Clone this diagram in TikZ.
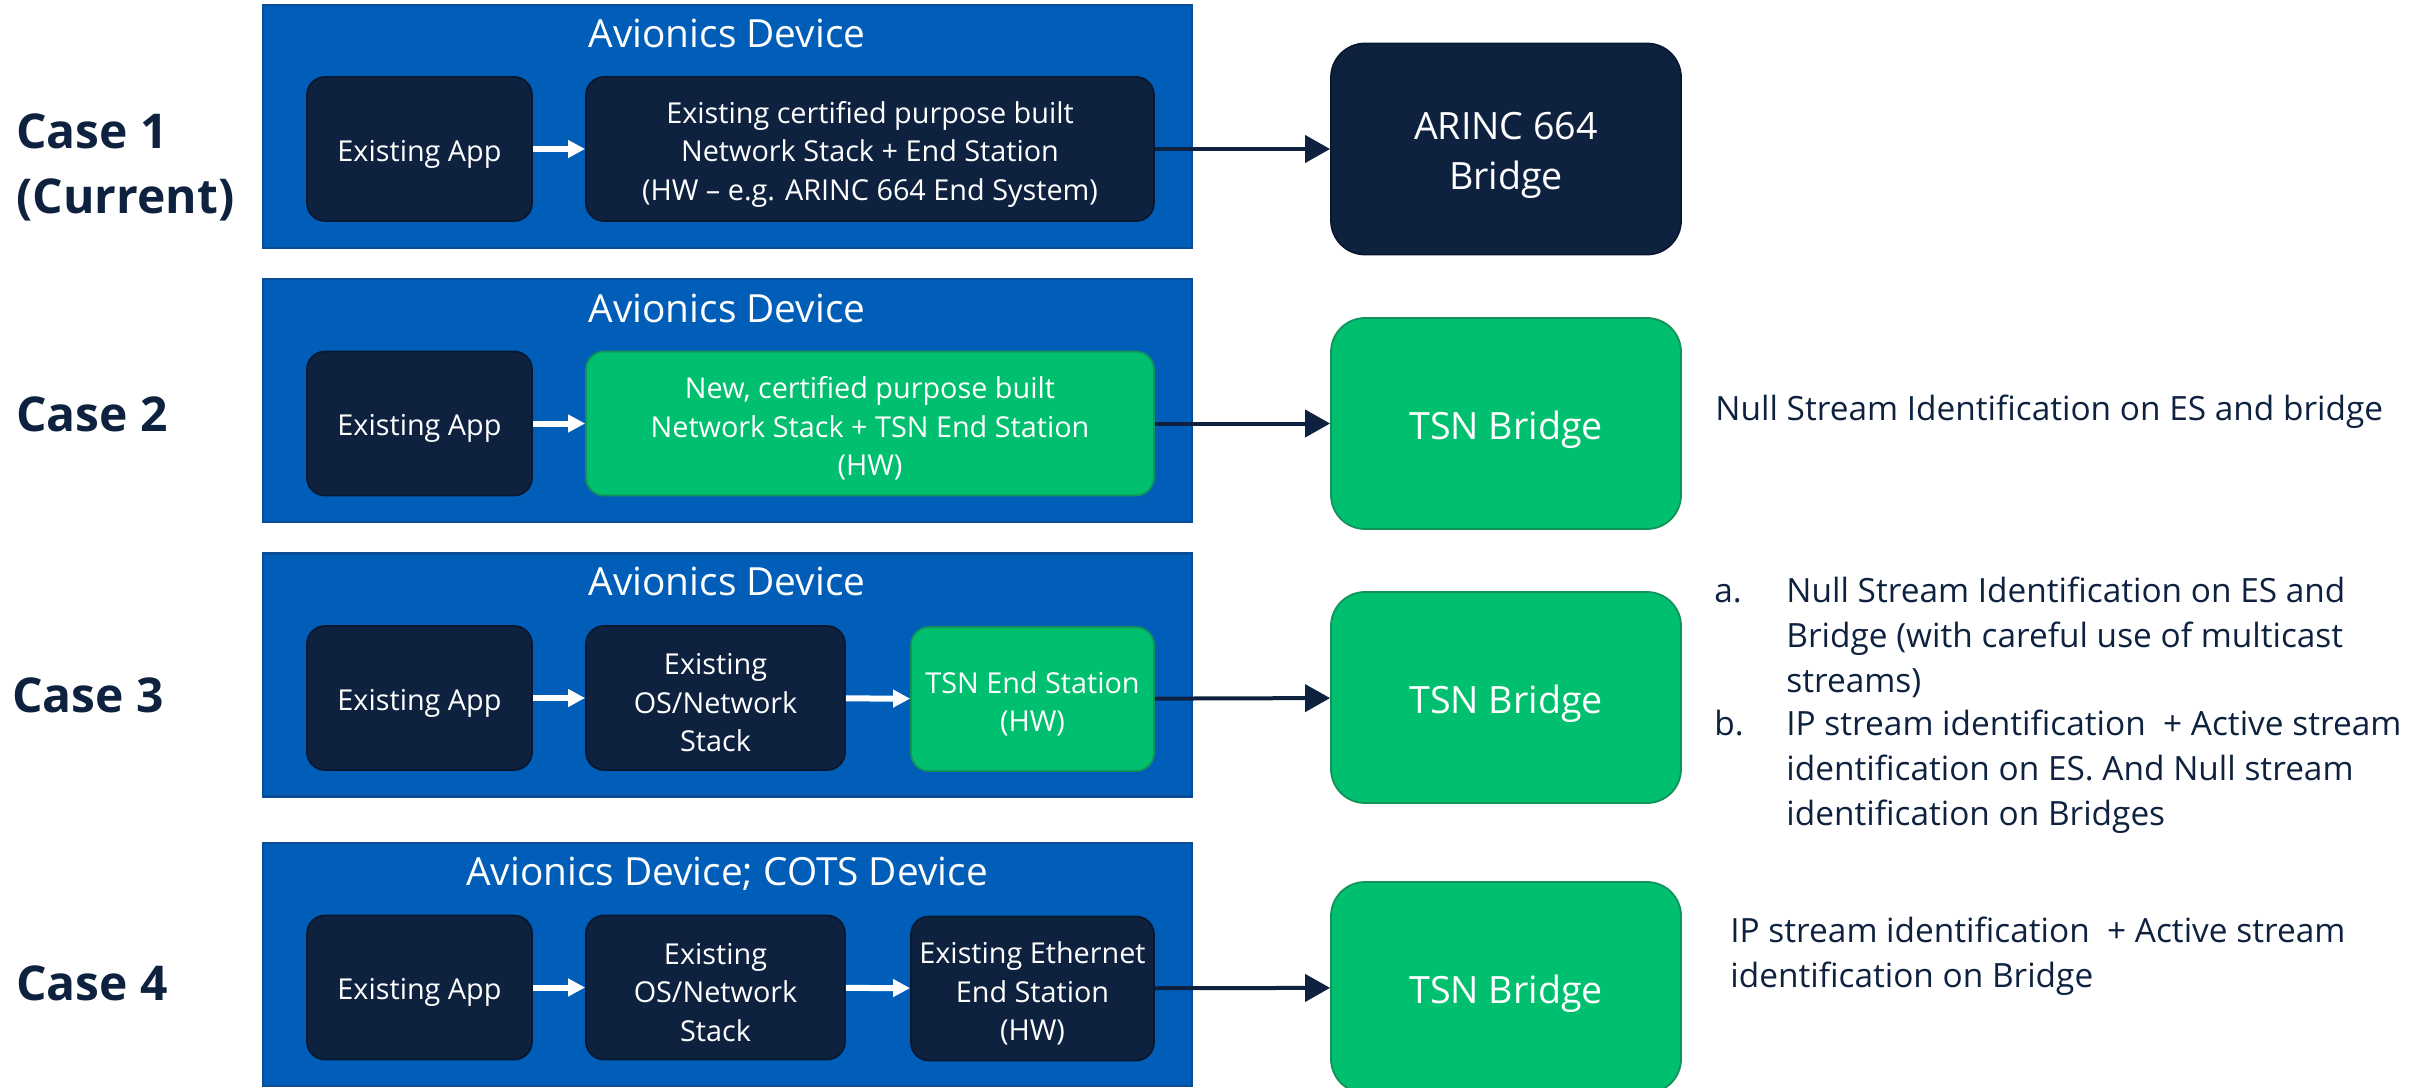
\documentclass[tikz,border=0pt]{standalone}
\usepackage{fontspec}
\setmainfont{Open Sans}
\usetikzlibrary{arrows.meta}

\definecolor{devblue}{HTML}{005EB8}
\definecolor{devedge}{HTML}{0B4C97}
\definecolor{navy}{HTML}{0E2240}
\definecolor{navyedge}{HTML}{081830}
\definecolor{tsngreen}{HTML}{00BF6F}
\definecolor{greenedge}{HTML}{12935A}

\tikzset{
  device/.style={draw=devedge, line width=1.2pt, fill=devblue, minimum width=464.5pt, minimum height=121.5pt, inner sep=0pt},
  devtitle/.style={text=white, font=\fontsize{19.4}{24}\selectfont, anchor=base, inner sep=0pt},
  blockbase/.style={rounded corners=9pt, line width=0.9pt, minimum height=72pt, inner sep=0pt},
  darkblock/.style={blockbase, fill=navy, draw=navyedge},
  greenblock/.style={blockbase, fill=tsngreen, draw=greenedge},
  blocktext/.style={text=white, inner sep=0pt, align=center, yshift=-2.5pt, font=\fontsize{14.4}{19.25}\selectfont},
  bridgebase/.style={rounded corners=17pt, line width=0.9pt, minimum width=175pt, minimum height=105.5pt, inner sep=0pt},
  darkbridge/.style={bridgebase, fill=navy, draw=navyedge},
  greenbridge/.style={bridgebase, fill=tsngreen, draw=greenedge},
  bridgetext/.style={text=white, inner sep=0pt, align=center, yshift=-3pt, font=\fontsize{18.8}{25}\selectfont},
  caselabel/.style={text=navy, font=\fontsize{24}{32.5}\selectfont\bfseries, anchor=base west, inner sep=0pt, align=left},
  note/.style={text=navy, font=\fontsize{16.7}{22.3}\selectfont, anchor=base west, inner sep=0pt, align=left},
  inner/.style={draw=white, line width=3pt, -{Triangle[length=8.5pt, width=8.5pt]}},
  outer/.style={draw=navy, line width=2pt, -{Triangle[length=12.5pt, width=13.5pt]}}
}

\begin{document}
\begin{tikzpicture}[x=0.5pt, y=-0.5pt]
  \useasboundingbox (0,0) rectangle (2430,1087);
  \clip (0,0) rectangle (2430,1087);

  % ---------- Case 1 ----------
  \node[caselabel] (lab1) at (16,213) {Case 1\\(Current)};
  \node[device] (dev1) at (727.5,126.5) {};
  \node[devtitle] (tit1) at (727,47) {Avionics Device};
  \node[darkblock, minimum width=112.5pt] (app1) at (419.5,149) {};
  \node[blocktext] (app1t) at (app1) {Existing App};
  \node[darkblock, minimum width=284pt] (net1) at (870,149) {};
  \node[blocktext] (net1t) at (net1)
    {Existing certified purpose built\\Network Stack + End Station\\(HW – e.g. ARINC 664 End System)};
  \node[darkbridge] (br1) at (1506,149) {};
  \node[bridgetext] (br1t) at (br1) {ARINC 664\\Bridge};
  \draw[inner] (app1) -- (net1);
  \draw[outer] (net1) -- (br1);

  % ---------- Case 2 ----------
  \node[caselabel] (lab2) at (16,431) {Case 2};
  \node[device] (dev2) at (727.5,400.5) {};
  \node[devtitle] (tit2) at (727,322) {Avionics Device};
  \node[darkblock, minimum width=112.5pt] (app2) at (419.5,423.5) {};
  \node[blocktext] (app2t) at (app2) {Existing App};
  \node[greenblock, minimum width=284pt] (net2) at (870,423.5) {};
  \node[blocktext] (net2t) at (net2)
    {New, certified purpose built\\Network Stack + TSN End Station\\(HW)};
  \node[greenbridge] (br2) at (1506,423.5) {};
  \node[bridgetext] (br2t) at (br2) {TSN Bridge};
  \draw[inner] (app2) -- (net2);
  \draw[outer] (net2) -- (br2);
  \node[note] (note2) at (1715,420) {Null Stream Identification on ES and bridge};

  % ---------- Case 3 ----------
  \node[caselabel] (lab3) at (12,712) {Case 3};
  \node[device] (dev3) at (727.5,675) {};
  \node[devtitle] (tit3) at (727,595) {Avionics Device};
  \node[darkblock, minimum width=112.5pt] (app3) at (419.5,698) {};
  \node[blocktext] (app3t) at (app3) {Existing App};
  \node[darkblock, minimum width=129.5pt] (os3) at (715.5,698) {};
  \node[blocktext] (os3t) at (os3) {Existing\\OS/Network\\Stack};
  \node[greenblock, minimum width=121.5pt] (es3) at (1032.5,699) {};
  \node[blocktext] (es3t) at (es3) {TSN End Station\\(HW)};
  \node[greenbridge] (br3) at (1506,697.5) {};
  \node[bridgetext] (br3t) at (br3) {TSN Bridge};
  \draw[inner] (app3) -- (os3);
  \draw[inner] (os3) -- (es3);
  \draw[outer] (es3) -- (br3);
  \node[note] (mark3a) at (1714,602) {a.};
  \node[note] (note3a) at (1786,692)
    {Null Stream Identification on ES and\\Bridge (with careful use of multicast\\streams)};
  \node[note] (mark3b) at (1714,735) {b.};
  \node[note] (note3b) at (1786,825)
    {IP stream identification\ \ + Active stream\\identification on ES. And Null stream\\identification on Bridges};

  % ---------- Case 4 ----------
  \node[caselabel] (lab4) at (16,1000) {Case 4};
  \node[device] (dev4) at (727.5,964.5) {};
  \node[devtitle] (tit4) at (727,885) {Avionics Device; COTS Device};
  \node[darkblock, minimum width=112.5pt] (app4) at (419.5,987.5) {};
  \node[blocktext] (app4t) at (app4) {Existing App};
  \node[darkblock, minimum width=129.5pt] (os4) at (715.5,987.5) {};
  \node[blocktext] (os4t) at (os4) {Existing\\OS/Network\\Stack};
  \node[darkblock, minimum width=121.5pt] (es4) at (1032.5,988.5) {};
  \node[blocktext] (es4t) at (es4) {Existing Ethernet\\End Station\\(HW)};
  \node[greenbridge] (br4) at (1506,987.5) {};
  \node[bridgetext] (br4t) at (br4) {TSN Bridge};
  \draw[inner] (app4) -- (os4);
  \draw[inner] (os4) -- (es4);
  \draw[outer] (es4) -- (br4);
  \node[note] (note4) at (1730,987)
    {IP stream identification\ \ + Active stream\\identification on Bridge};
\end{tikzpicture}
\end{document}
